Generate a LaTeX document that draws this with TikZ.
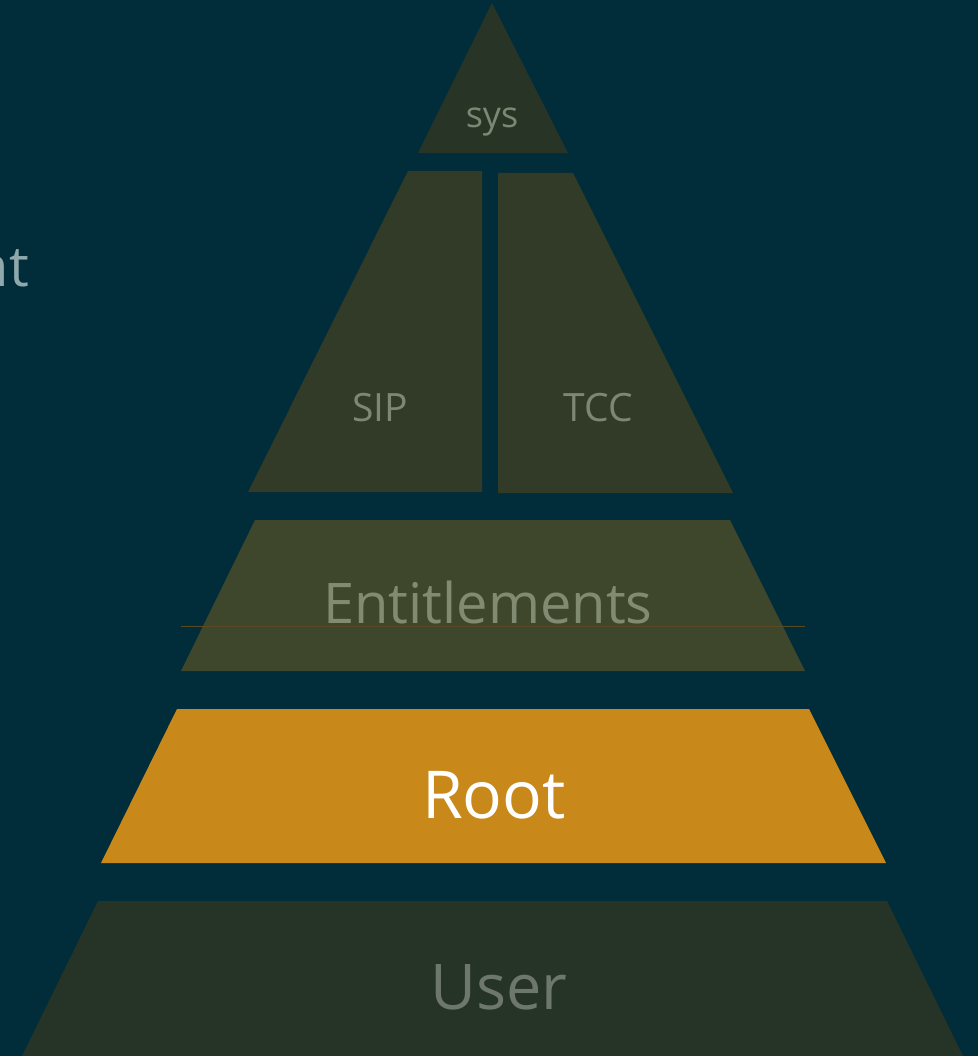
\documentclass[tikz,border=0pt]{standalone}
\usepackage{fontspec}
\setmainfont{Open Sans}
\definecolor{bgteal}{HTML}{012C39}
\definecolor{sysfill}{HTML}{283526}
\definecolor{splitfill}{HTML}{313B28}
\definecolor{entfill}{HTML}{3E472B}
\definecolor{rootfill}{HTML}{C8891A}
\definecolor{userfill}{HTML}{253427}
\definecolor{labelgrey}{HTML}{7C8774}
\definecolor{entgrey}{HTML}{808B72}
\definecolor{usergrey}{HTML}{6D786A}
\definecolor{sidegrey}{HTML}{8FA8AC}
\definecolor{guideline}{HTML}{5A4A22}
\tikzset{
  tier/.style={draw=none},
  tierlabel/.style={inner sep=0pt, anchor=center},
}
\begin{document}
\begin{tikzpicture}[x=1pt,y=-1pt]
  \useasboundingbox (0,0) rectangle (978,1056);
  \fill[bgteal] (0,0) rectangle (978,1056);
  \begin{scope}
    \clip (0,0) rectangle (978,1056);

    % side caption, cut by the left edge
    \node[anchor=east, text=sidegrey, inner sep=0pt, font=\fontsize{56}{60}\selectfont] (side) at (29,268) {nt};

    % apex
    \fill[sysfill, tier] (492,3) -- (568,153) -- (418,153) -- cycle;
    \node[tierlabel, text=labelgrey, font=\fontsize{36}{40}\selectfont] (sys) at (492,122) {sys};

    % split tier
    \fill[splitfill, tier] (408,171) -- (482,171) -- (482,492) -- (248,492) -- cycle;
    \fill[splitfill, tier] (498,173) -- (573,173) -- (733,493) -- (498,493) -- cycle;
    \node[tierlabel, text=labelgrey, font=\fontsize{39}{43}\selectfont] (sip) at (380,408) {SIP};
    \node[tierlabel, text=labelgrey, font=\fontsize{39}{43}\selectfont] (tcc) at (598,408) {TCC};

    % entitlements
    \fill[entfill, tier] (255,520) -- (730,520) -- (805,671) -- (181,671) -- cycle;
    \draw[guideline, line width=0.8pt] (181,626) -- (805,626);
    \node[tierlabel, text=entgrey, font=\fontsize{56}{60}\selectfont] (ent) at (488,602) {Entitlements};

    % root
    \fill[rootfill, tier] (177,709) -- (809,709) -- (886,863) -- (101,863) -- cycle;
    \node[tierlabel, text=white, font=\fontsize{66}{70}\selectfont] (root) at (494,795) {Root};

    % user
    \fill[userfill, tier] (98,901) -- (887,901) -- (963,1056) -- (22,1056) -- cycle;
    \node[tierlabel, text=usergrey, font=\fontsize{63}{67}\selectfont] (user) at (499,987) {User};
  \end{scope}
\end{tikzpicture}
\end{document}
